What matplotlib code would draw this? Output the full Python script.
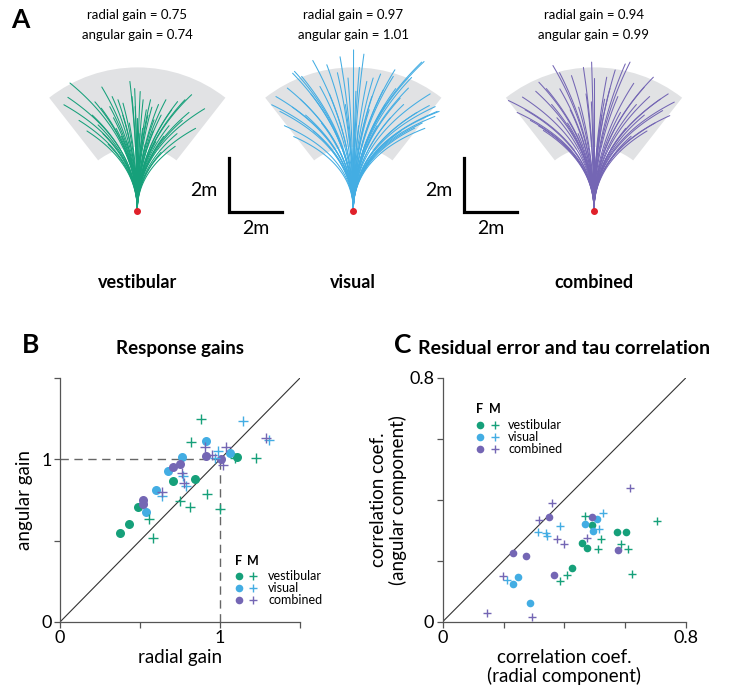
import numpy as np
import matplotlib
matplotlib.use('Agg')
import matplotlib.pyplot as plt
from matplotlib.patches import Wedge

plt.rcParams['font.family'] = ['Lato', 'DejaVu Sans']

W, H = 729, 688
green = '#16a07a'
blue = '#43ade3'
purple = '#7466b4'
names = ['vestibular', 'visual', 'combined']
colors = [green, blue, purple]

# panel A: trajectory end points (x, y in metres, start at 0,0)
vest_ends = [(-2.54, 4.81), (-2.62, 4.27), (-2.77, 3.99), (-1.34, 4.66), (-0.28, 4.87),
             (0.11, 4.49), (0.50, 4.18), (1.08, 4.18), (1.52, 4.11), (2.05, 4.37),
             (2.54, 3.84), (1.43, 2.42), (1.80, 4.18), (-0.73, 4.18), (-0.08, 3.92),
             (0.22, 4.18), (0.34, 3.80), (0.63, 3.42), (-0.54, 4.05), (-1.04, 3.92),
             (-1.48, 3.23), (-1.36, 3.86), (-0.90, 3.50), (-0.30, 3.30), (0.90, 3.60),
             (1.20, 3.20), (0.10, 2.90), (-1.90, 3.00), (-0.60, 2.80), (0.70, 2.60),
             (1.70, 3.40), (-1.10, 2.50), (0.40, 3.60), (-0.20, 4.30), (1.30, 3.80),
             (-1.70, 3.60), (0.90, 2.20), (2.20, 3.10), (-2.20, 3.40), (-0.80, 3.10),
             (0.00, 3.50), (0.60, 3.00), (1.00, 2.80), (-0.40, 2.60), (-1.30, 2.90),
             (0.30, 2.50), (1.50, 2.90), (-0.10, 4.60), (0.80, 4.00), (-0.95, 4.30),
             (0.55, 3.90), (-1.60, 4.10), (1.95, 3.70), (-0.55, 3.60), (0.20, 3.10)]
vis_ends = [(0.01, 6.06), (2.67, 5.62), (-2.22, 5.25), (-2.92, 4.30), (-2.25, 2.79),
            (3.24, 3.74), (3.09, 3.92), (-1.53, 5.66), (-2.29, 5.18), (-2.49, 4.62),
            (-3.08, 3.99), (-1.95, 5.06), (-1.26, 4.68), (-2.77, 3.74), (0.23, 5.40),
            (0.75, 5.00), (1.03, 5.15), (1.51, 5.06), (1.57, 5.31), (2.58, 5.60),
            (2.20, 5.02), (2.08, 4.62), (2.87, 3.96), (3.17, 3.74), (3.08, 3.55),
            (2.32, 3.11), (1.77, 4.24), (1.13, 4.55), (0.51, 4.87), (-0.60, 5.20),
            (-0.90, 4.40), (-1.80, 3.60), (-0.30, 4.00), (0.60, 3.80), (1.40, 3.50),
            (2.60, 3.30), (-2.60, 3.20), (-1.20, 3.30), (0.20, 3.20), (-0.50, 5.80),
            (1.90, 4.00), (2.90, 4.40), (-1.00, 5.50), (0.10, 4.50), (-2.00, 4.20),
            (1.20, 4.00), (2.40, 3.70), (-1.50, 3.00), (-0.70, 3.00), (0.90, 3.20),
            (1.80, 3.00), (-2.30, 3.90), (0.40, 5.90), (-0.20, 5.00), (1.60, 4.60),
            (2.70, 3.10), (-1.60, 4.40), (0.70, 4.30)]
comb_ends = [(-1.55, 5.47), (-0.09, 5.60), (1.36, 5.60), (1.18, 5.53), (2.24, 5.03),
             (3.03, 4.09), (2.86, 3.58), (-3.23, 4.15), (-2.70, 4.28), (-2.08, 4.84),
             (-1.29, 4.59), (-0.85, 5.09), (0.48, 5.03), (1.89, 4.65), (2.59, 3.77),
             (-1.91, 3.02), (-0.58, 3.90), (-2.90, 3.70), (-2.40, 3.40), (-1.60, 4.00),
             (-0.30, 4.40), (0.90, 4.30), (1.60, 4.00), (2.30, 3.30), (0.30, 3.60),
             (-1.00, 3.30), (1.20, 3.10), (2.80, 4.40), (-2.20, 4.50), (0.00, 5.00),
             (0.80, 5.30), (-0.60, 2.90), (1.90, 3.60), (-1.30, 5.20), (2.10, 4.30),
             (-2.60, 3.80), (-0.40, 5.40), (0.60, 4.60), (1.50, 4.80), (2.50, 4.20),
             (-1.80, 4.60), (-0.90, 3.80), (0.20, 3.00), (1.00, 3.70), (-1.40, 3.50),
             (2.00, 3.00), (-0.10, 4.10), (0.40, 4.20), (-2.10, 3.20), (1.40, 2.80)]
radial_gain = ['0.75', '0.97', '0.94']
angular_gain = ['0.74', '1.01', '0.99']

# panel B: response gains (F = circles, M = plus)
gainF_x = {'vestibular': [0.375, 0.433, 0.49, 0.708, 0.844, 1.108],
           'visual': [0.5375, 0.60, 0.677, 0.76, 0.9125, 1.0625],
           'combined': [0.517, 0.517, 0.708, 0.75, 0.9125, 1.004]}
gainF_y = {'vestibular': [0.549, 0.601, 0.704, 0.864, 0.879, 1.015],
           'visual': [0.679, 0.809, 0.926, 1.015, 1.111, 1.04],
           'combined': [0.751, 0.726, 0.953, 0.973, 1.023, 1.0025]}
gainM_x = {'vestibular': [0.879, 0.819, 1.225, 0.92, 0.75, 0.8125, 1.0, 0.558, 0.58, 1.094],
           'visual': [1.142, 1.308, 0.99, 0.77, 0.79, 0.64, 0.97],
           'combined': [1.29, 0.908, 1.04, 1.017, 0.76, 0.777, 0.635, 0.948]}
gainM_y = {'vestibular': [1.249, 1.105, 1.008, 0.786, 0.741, 0.710, 0.694, 0.632, 0.515, 1.008],
           'visual': [1.235, 1.121, 1.05, 0.895, 0.833, 0.776, 1.008],
           'combined': [1.13, 1.076, 1.076, 0.967, 0.916, 0.854, 0.802, 1.029]}

# panel C: correlation coefficients
corrF_x = {'vestibular': [0.426, 0.457, 0.476, 0.491, 0.572, 0.604],
           'visual': [0.232, 0.248, 0.287, 0.468, 0.508, 0.493],
           'combined': [0.232, 0.274, 0.348, 0.365, 0.492, 0.575]}
corrF_y = {'vestibular': [0.175, 0.258, 0.241, 0.316, 0.295, 0.293],
           'visual': [0.123, 0.147, 0.060, 0.321, 0.336, 0.296],
           'combined': [0.225, 0.217, 0.343, 0.153, 0.344, 0.236]}
corrM_x = {'vestibular': [0.467, 0.704, 0.522, 0.512, 0.585, 0.610, 0.621, 0.410, 0.386],
           'visual': [0.528, 0.514, 0.386, 0.312, 0.340, 0.213, 0.342],
           'combined': [0.616, 0.359, 0.317, 0.375, 0.400, 0.473, 0.199, 0.145, 0.294]}
corrM_y = {'vestibular': [0.347, 0.331, 0.272, 0.239, 0.255, 0.239, 0.157, 0.153, 0.135],
           'visual': [0.357, 0.304, 0.315, 0.294, 0.290, 0.137, 0.280],
           'combined': [0.438, 0.389, 0.334, 0.272, 0.255, 0.274, 0.150, 0.027, 0.014]}


def px_rect(x0, y0, x1, y1):
    return [x0 / W, 1 - y1 / H, (x1 - x0) / W, (y1 - y0) / H]


def trajectory(x, y, n=50):
    # start heading straight ahead, then bend towards the end point
    d = np.hypot(x, y)
    t = np.linspace(0, 1, n)
    cy = 0.5 * d
    px = t ** 2 * x
    py = 2 * t * (1 - t) * cy + t ** 2 * y
    return px, py


fig = plt.figure(figsize=(W / 100, H / 100), dpi=100)

ppm = 26.5  # pixels per metre
centres = [137.3, 353.3, 594.0]
ends_all = [vest_ends, vis_ends, comb_ends]
fan_axes = []
for i, (cxp, ends, col) in enumerate(zip(centres, ends_all, colors)):
    ax = fig.add_axes(px_rect(cxp - 115, 40, cxp + 115, 225))
    ax.set_xlim(-115 / ppm, 115 / ppm)
    ax.set_ylim((210.5 - 225) / ppm, (210.5 - 40) / ppm)
    ax.axis('off')
    ax.add_patch(Wedge((0, 0), 5.4, 90 - 38, 90 + 38, width=3.0,
                       facecolor='#e1e2e4', edgecolor='none', zorder=1))
    for x, y in ends:
        tx, ty = trajectory(x, y)
        ax.plot(tx, ty, color=col, lw=0.75, zorder=2, clip_on=False,
                solid_capstyle='round')
    ax.plot(0, 0, 'o', color='#e0202a', ms=4, zorder=3, clip_on=False)
    fig.text(cxp / W, 1 - 15 / H, 'radial gain = ' + radial_gain[i],
             ha='center', va='center', fontsize=9.5)
    fig.text(cxp / W, 1 - 35 / H, 'angular gain = ' + angular_gain[i],
             ha='center', va='center', fontsize=9.5)
    fig.text(cxp / W, 1 - 283 / H, names[i], ha='center', va='center',
             fontsize=13, fontweight='bold')
    fan_axes.append(ax)

# scale bars (2 m)
for ax, bx in [(fan_axes[0], 3.47), (fan_axes[1], 4.18)]:
    ax.plot([bx, bx, bx + 2], [2, -0.04, -0.04], color='black', lw=2.3,
            clip_on=False, solid_joinstyle='miter', zorder=4)
    ax.text(bx - 0.95, 0.75, '2m', ha='center', va='center', fontsize=14)
    ax.text(bx + 1.0, -0.68, '2m', ha='center', va='center', fontsize=14)

fig.text(20 / W, 1 - 20 / H, 'A', fontsize=19, fontweight='bold', ha='center', va='center')
fig.text(31 / W, 1 - 345 / H, 'B', fontsize=19, fontweight='bold', ha='center', va='center')
fig.text(403 / W, 1 - 345 / H, 'C', fontsize=19, fontweight='bold', ha='center', va='center')


def style_axes(ax):
    for s in ['top', 'right']:
        ax.spines[s].set_visible(False)
    for s in ['left', 'bottom']:
        ax.spines[s].set_color('#555555')
        ax.spines[s].set_linewidth(0.9)
    ax.tick_params(direction='out', length=4, width=0.9, color='#555555',
                   labelsize=13, pad=2)


def draw_points(ax, Fx, Fy, Mx, My, ms_c, ms_p):
    for name, col in zip(names, colors):
        ax.plot(Fx[name], Fy[name], 'o', color=col, ms=ms_c, mec='none', clip_on=False)
    for name, col in zip(names, colors):
        ax.plot(Mx[name], My[name], '+', color=col, ms=ms_p, mew=1.0, clip_on=False)


def draw_key(ax, xc, xp, xt, yh, ys):
    ax.text(xc, yh, 'F', transform=ax.transAxes, ha='center', va='center',
            fontsize=9, fontweight='bold')
    ax.text(xp, yh, 'M', transform=ax.transAxes, ha='center', va='center',
            fontsize=9, fontweight='bold')
    for name, col, y in zip(names, colors, ys):
        ax.plot(xc, y, 'o', color=col, ms=5.5, mec='none', transform=ax.transAxes, clip_on=False)
        ax.plot(xp, y, '+', color=col, ms=6, mew=1.0, transform=ax.transAxes, clip_on=False)
        ax.text(xt, y, name, transform=ax.transAxes, ha='left', va='center', fontsize=9)


# panel B
axB = fig.add_axes(px_rect(60, 378, 300, 622))
style_axes(axB)
axB.set_xlim(0, 1.5)
axB.set_ylim(0, 1.5)
axB.plot([0, 1.5], [0, 1.5], color='#333333', lw=0.8)
axB.plot([0, 1], [1, 1], color='#666666', lw=1.0, dashes=(6, 4))
axB.plot([1, 1], [0, 1], color='#666666', lw=1.0, dashes=(6, 4))
draw_points(axB, gainF_x, gainF_y, gainM_x, gainM_y, 6.5, 7)
axB.set_xticks([0, 0.5, 1, 1.5])
axB.set_xticklabels(['0', '', '1', ''])
axB.set_yticks([0, 0.5, 1, 1.5])
axB.set_yticklabels(['0', '', '1', ''])
axB.set_xlabel('radial gain', fontsize=13.5, labelpad=2)
axB.set_ylabel('angular gain', fontsize=13.5, labelpad=6)
axB.set_title('Response gains', fontsize=13.5, fontweight='bold', pad=17)
draw_key(axB, 0.746, 0.804, 0.867, 0.248, [0.190, 0.140, 0.090])

# panel C
axC = fig.add_axes(px_rect(442.7, 377.7, 686, 621.7))
style_axes(axC)
axC.set_xlim(0, 0.8)
axC.set_ylim(0, 0.8)
axC.plot([0, 0.8], [0, 0.8], color='#333333', lw=0.8)
draw_points(axC, corrF_x, corrF_y, corrM_x, corrM_y, 5.5, 6)
ticks = [0, 0.2, 0.4, 0.6, 0.8]
axC.set_xticks(ticks)
axC.set_xticklabels(['0', '', '', '', '0.8'])
axC.set_yticks(ticks)
axC.set_yticklabels(['0', '', '', '', '0.8'])
axC.set_xlabel('correlation coef.\n(radial component)', fontsize=13.5, labelpad=2,
               linespacing=1.1)
axC.set_ylabel('correlation coef.\n(angular component)', fontsize=13.5, labelpad=2,
               linespacing=1.1)
axC.set_title('Residual error and tau correlation', fontsize=14, fontweight='bold', pad=17)
draw_key(axC, 0.153, 0.215, 0.269, 0.873, [0.806, 0.756, 0.706])

fig.savefig('out.png', dpi=100)
